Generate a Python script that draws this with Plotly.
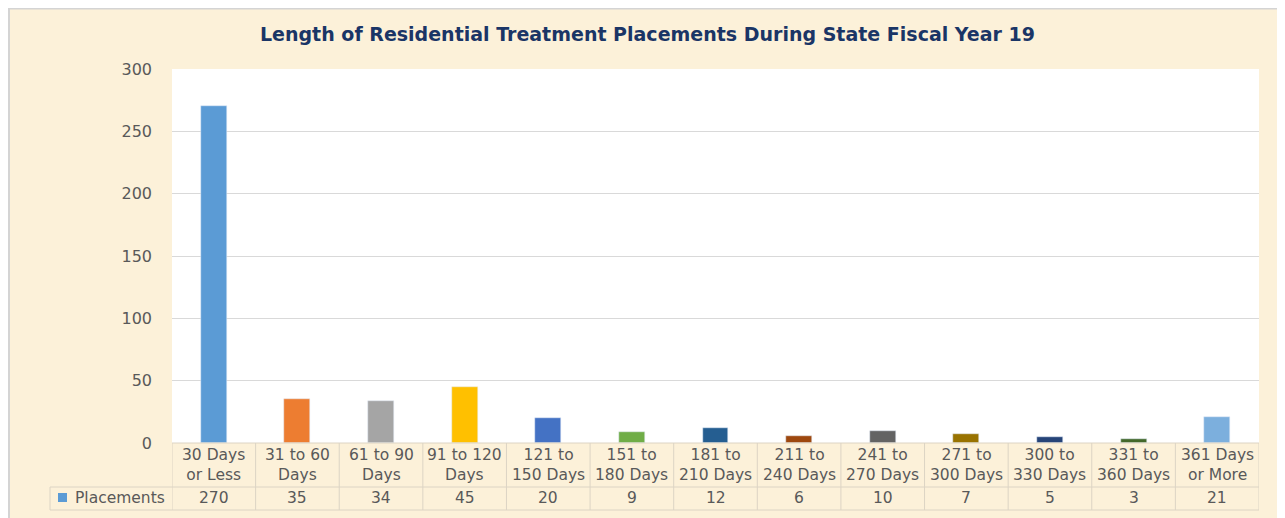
import plotly.graph_objects as go

categories = ["30 Days<br>or Less", "31 to 60<br>Days", "61 to 90<br>Days", "91 to 120<br>Days",
              "121 to<br>150 Days", "151 to<br>180 Days", "181 to<br>210 Days", "211 to<br>240 Days",
              "241 to<br>270 Days", "271 to<br>300 Days", "300 to<br>330 Days", "331 to<br>360 Days",
              "361 Days<br>or More"]
placements = [270, 35, 34, 45, 20, 9, 12, 6, 10, 7, 5, 3, 21]
bar_colors = ["#5B9BD5", "#ED7D31", "#A5A5A5", "#FFC000", "#4472C4", "#70AD47", "#255E91",
              "#9E480E", "#636363", "#997300", "#264478", "#43682B", "#7CAFDD"]
y_ticks = [0, 50, 100, 150, 200, 250, 300]
series_name = "Placements"

# figure is placed by the page at an 8px offset; positions below are page pixels
OFF = 8
W, H = 1285 - OFF, 518 - OFF
PL, PR, PT, PB = 172, 1259, 69, 443  # plot area in page pixels
L, R, T, B = PL - OFF, (W + OFF) - PR, PT - OFF, (H + OFF) - PB
pw, ph = W - L - R, H - T - B


def px_x(p):
    return (p - PL) / pw


def px_y(p):
    return (PB - p) / ph


FONT = "DejaVu Sans"
GREY = "#595959"
LINE = "#DCD4C4"

x_idx = list(range(len(categories)))

fig = go.Figure()
fig.add_trace(go.Bar(x=x_idx, y=placements, marker_color=bar_colors, width=0.31,
                     name=series_name, showlegend=False))

shapes = []
annotations = []

# outer frame edge
shapes.append(dict(type="line", xref="paper", yref="paper", x0=px_x(OFF), x1=px_x(W + OFF),
                   y0=px_y(OFF + 0.5), y1=px_y(OFF + 0.5), line=dict(color="#D4D4D4", width=2)))
shapes.append(dict(type="line", xref="paper", yref="paper", x0=px_x(OFF + 1), x1=px_x(OFF + 1),
                   y0=px_y(OFF), y1=px_y(H + OFF), line=dict(color="#D4D4D4", width=2)))

# data table grid
y_row1 = px_y(487)
y_row2 = px_y(510)
for i in range(len(categories) + 1):
    shapes.append(dict(type="line", xref="x", yref="paper", x0=i - 0.5, x1=i - 0.5,
                       y0=y_row2, y1=0, line=dict(color=LINE, width=1)))
shapes.append(dict(type="line", xref="paper", yref="paper", x0=px_x(50), x1=px_x(50),
                   y0=y_row2, y1=y_row1, line=dict(color=LINE, width=1)))
for yy in (y_row1, y_row2):
    shapes.append(dict(type="line", xref="paper", yref="paper", x0=px_x(50), x1=1,
                       y0=yy, y1=yy, line=dict(color=LINE, width=1)))
shapes.append(dict(type="line", xref="paper", yref="paper", x0=0, x1=1,
                   y0=0, y1=0, line=dict(color=LINE, width=1)))

# legend key
shapes.append(dict(type="rect", xref="paper", yref="paper", x0=px_x(58), x1=px_x(67),
                   y0=px_y(502), y1=px_y(493), fillcolor=bar_colors[0], line_width=0))
annotations.append(dict(xref="paper", yref="paper", x=px_x(73), y=px_y(498), text=series_name,
                        showarrow=False, xanchor="left", yanchor="middle",
                        font=dict(family=FONT, size=15.5, color=GREY)))

for i, (c, v) in enumerate(zip(categories, placements)):
    annotations.append(dict(xref="x", yref="paper", x=i, y=px_y(465), text=c, showarrow=False,
                            xanchor="center", yanchor="middle",
                            font=dict(family=FONT, size=15.5, color=GREY)))
    annotations.append(dict(xref="x", yref="paper", x=i, y=px_y(498), text=str(v), showarrow=False,
                            xanchor="center", yanchor="middle",
                            font=dict(family=FONT, size=15.5, color=GREY)))

# title
annotations.append(dict(xref="paper", yref="paper", x=px_x(647), y=px_y(34),
                        text="<b>Length of Residential Treatment Placements During State Fiscal Year 19</b>",
                        showarrow=False, xanchor="center", yanchor="middle",
                        font=dict(family=FONT, size=19, color="#1A3566")))

fig.update_layout(
    width=W, height=H,
    margin=dict(l=L, r=R, t=T, b=B),
    paper_bgcolor="#FCF1D9",
    plot_bgcolor="white",
    xaxis=dict(range=[-0.5, len(categories) - 0.5], showticklabels=False, showgrid=False,
               zeroline=False, showline=False, fixedrange=True),
    yaxis=dict(range=[0, 300], tickvals=y_ticks, showgrid=True, gridcolor="#D9D9D9", gridwidth=1,
               zeroline=False, showline=False, ticklabelstandoff=19,
               tickfont=dict(family=FONT, size=16, color=GREY)),
    shapes=shapes,
    annotations=annotations,
    bargap=0,
)

fig.write_html("out.html")
